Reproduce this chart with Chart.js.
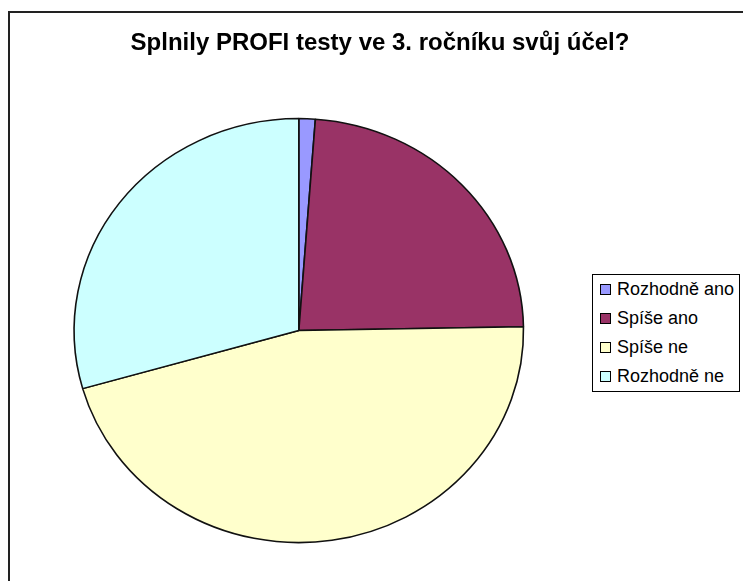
<!DOCTYPE html>
<html>
<head>
<meta charset="utf-8">
<script src="https://cdn.jsdelivr.net/npm/chart.js@4"></script>
<style>
    html, body { margin: 0; padding: 0; background: #fff; overflow: hidden; }
    body { width: 743px; height: 581px; position: relative; font-family: "Liberation Sans", Arial, sans-serif; }
    #frame { position: absolute; left: 8px; top: 11px; width: 800px; height: 700px; border: 2px solid #222; box-sizing: border-box; }
    #wrap { position: absolute; left: 0; top: 0; width: 743px; height: 581px; }
    #title { position: absolute; left: 0; top: 30px; width: 760px; text-align: center; font-weight: bold; font-size: 24px; line-height: 24px; color: #000; }
    #legend { position: absolute; left: 592px; top: 274px; width: 148px; border: 1px solid #000; box-sizing: border-box; background: #fff; }
    .item { height: 29px; display: flex; align-items: center; font-size: 18px; color: #000; white-space: nowrap; }
    .box { width: 9px; height: 9px; border: 1px solid #000; margin-left: 7px; margin-right: 6px; }
</style>
</head>
<body>
<div id="frame"></div>
<div id="wrap"><canvas id="chart" width="743" height="581"></canvas></div>
<div id="title"></div>
<div id="legend"></div>
<script>
const chartTitle = 'Splnily PROFI testy ve 3. ročníku svůj účel?';
const labels = ['Rozhodně ano', 'Spíše ano', 'Spíše ne', 'Rozhodně ne'];
const values = [1, 20, 39, 25];
const colors = ['#9999FF', '#993366', '#FFFFCC', '#CCFFFF'];

document.getElementById('title').textContent = chartTitle;

// legend built from the same arrays
const legendEl = document.getElementById('legend');
labels.forEach(function (label, i) {
    const row = document.createElement('div');
    row.className = 'item';
    const sq = document.createElement('span');
    sq.className = 'box';
    sq.style.background = colors[i];
    const txt = document.createElement('span');
    txt.textContent = label;
    row.appendChild(sq);
    row.appendChild(txt);
    legendEl.appendChild(row);
});

// Excel draws the pie slightly squashed, so flatten it a little
const squash = {
    id: 'squash',
    beforeDatasetsDraw(chart) {
        const arc = chart.getDatasetMeta(0).data[0];
        const ctx = chart.ctx;
        ctx.save();
        ctx.translate(arc.x, arc.y);
        ctx.scale(1, 212 / 224.7);
        ctx.translate(-arc.x, -arc.y);
    },
    afterDatasetsDraw(chart) {
        chart.ctx.restore();
    }
};

new Chart(document.getElementById('chart'), {
    type: 'pie',
    data: {
        labels: labels,
        datasets: [{
            data: values,
            backgroundColor: colors,
            borderColor: '#111',
            borderWidth: 1.6,
            hoverOffset: 0
        }]
    },
    options: {
        responsive: false,
        animation: false,
        radius: 224.7,
        layout: { padding: { left: 0, right: 145.4, top: 80.2, bottom: 0 } },
        plugins: {
            legend: { display: false },
            title: { display: false },
            tooltip: { enabled: false }
        }
    },
    plugins: [squash]
});
</script>
</body>
</html>
